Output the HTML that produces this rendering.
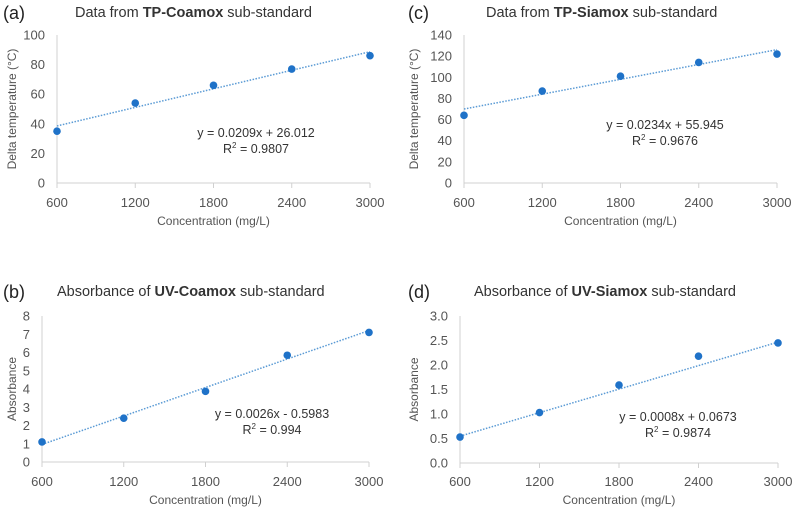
<!DOCTYPE html>
<html><head><meta charset="utf-8"><style>
body{margin:0;background:#fff;}
svg{display:block;font-family:"Liberation Sans",sans-serif;}
</style></head><body>
<svg id="fig" width="792" height="508" viewBox="0 0 792 508"></svg>
<script>
const xCats=[600,1200,1800,2400,3000];
const xTickLabels=["600","1200","1800","2400","3000"];
const valsA=[35,54,66,77,86];
const valsB=[1.1,2.4,3.87,5.85,7.1];
const valsC=[64,87,101,114,122];
const valsD=[0.53,1.03,1.59,2.18,2.45];
const slopes=[0.0209,0.0026,0.0234,0.0008];
const intercepts=[26.012,-0.5983,55.945,0.0673];
const yTicksA=[0,20,40,60,80,100];
const yTicksB=[0,1,2,3,4,5,6,7,8];
const yTicksC=[0,20,40,60,80,100,120,140];
const yTicksD=[0,0.5,1.0,1.5,2.0,2.5,3.0];
const eqTexts=["y = 0.0209x + 26.012","y = 0.0026x - 0.5983","y = 0.0234x + 55.945","y = 0.0008x + 0.0673"];
const r2Texts=["0.9807","0.994","0.9676","0.9874"];

const panels=[
 {id:"a",label:"(a)",pre:"Data from ",bold:"TP-Coamox",post:" sub-standard",vals:valsA,ticks:yTicksA,dec:0,ytitle:"Delta temperature (°C)",
  x0:57,x1:370,yTop:35,yBot:183,titleX:75,titleY:17,labX:3,ytX:16,eqX:256,eqY:137,xtY:207,xtitY:225},
 {id:"b",label:"(b)",pre:"Absorbance of ",bold:"UV-Coamox",post:" sub-standard",vals:valsB,ticks:yTicksB,dec:0,ytitle:"Absorbance",
  x0:42,x1:369,yTop:316,yBot:462,titleX:57,titleY:296,labX:3,ytX:16,eqX:272,eqY:418,xtY:486,xtitY:504},
 {id:"c",label:"(c)",pre:"Data from ",bold:"TP-Siamox",post:" sub-standard",vals:valsC,ticks:yTicksC,dec:0,ytitle:"Delta temperature (°C)",
  x0:464,x1:777,yTop:35,yBot:183,titleX:486,titleY:17,labX:408,ytX:418,eqX:665,eqY:129,xtY:207,xtitY:225},
 {id:"d",label:"(d)",pre:"Absorbance of ",bold:"UV-Siamox",post:" sub-standard",vals:valsD,ticks:yTicksD,dec:1,ytitle:"Absorbance",
  x0:460,x1:778,yTop:316,yBot:463,titleX:474,titleY:296,labX:408,ytX:418,eqX:678,eqY:421,xtY:486,xtitY:504}
];
const NS="http://www.w3.org/2000/svg";
const svg=document.getElementById("fig");
function mk(tag,attrs,parent,text){const e=document.createElementNS(NS,tag);for(const k in attrs)e.setAttribute(k,attrs[k]);if(text!==undefined)e.textContent=text;parent.appendChild(e);return e;}
panels.forEach((p,pi)=>{
 const g=mk("g",{},svg);
 
 
 const ymax=p.ticks[p.ticks.length-1],ymin=p.ticks[0];
 const xs=v=>p.x0+(v-xCats[0])/(xCats[xCats.length-1]-xCats[0])*(p.x1-p.x0);
 const ys=v=>p.yBot-(v-ymin)/(ymax-ymin)*(p.yBot-p.yTop);
 const lab=mk("text",{x:p.labX,y:p.titleY+2,"font-size":18,fill:"#222"},g,p.label);
 
 
 const t=mk("text",{x:p.titleX,y:p.titleY,"font-size":14.5,fill:"#333"},g);
 
 
 mk("tspan",{},t,p.pre);mk("tspan",{"font-weight":"bold"},t,p.bold);mk("tspan",{},t,p.post);
 const ya=mk("line",{x1:p.x0,x2:p.x0,y1:p.yTop,y2:p.yBot,stroke:"#d0d0d0"},g);
 
 
 const xa=mk("line",{x1:p.x0,x2:p.x1,y1:p.yBot,y2:p.yBot,stroke:"#d0d0d0"},g);
 
 
 p.ticks.forEach(v=>{
  const tl=mk("text",{x:p.x0-12,y:ys(v)+4.5,"font-size":13,fill:"#555","text-anchor":"end"},g,v.toFixed(p.dec));
  
  
 });
 xCats.forEach((c,i)=>{
  mk("line",{x1:xs(c),x2:xs(c),y1:p.yBot,y2:p.yBot+5,stroke:"#d0d0d0"},g);
  const tl=mk("text",{x:xs(c),y:p.xtY,"font-size":13,fill:"#555","text-anchor":"middle"},g,xTickLabels[i]);
  
  
 });
 const xt=mk("text",{x:(p.x0+p.x1)/2,y:p.xtitY,"font-size":12,fill:"#555","text-anchor":"middle"},g,"Concentration (mg/L)");
 
 
 const yc=(p.yTop+p.yBot)/2;
 const yt=mk("text",{x:p.ytX,y:yc,"font-size":12,fill:"#555","text-anchor":"middle",transform:`rotate(-90 ${p.ytX} ${yc})`},g,p.ytitle);
 
 
 const xa0=xCats[0],xa1=xCats[xCats.length-1];
 const tr=mk("line",{x1:xs(xa0),y1:ys(slopes[pi]*xa0+intercepts[pi]),x2:xs(xa1),y2:ys(slopes[pi]*xa1+intercepts[pi]),stroke:"#5b9bd5","stroke-width":1.5,"stroke-dasharray":"1.5 1.5"},g);
 
 
 p.vals.forEach((v,i)=>{
  const c=mk("circle",{cx:xs(xCats[i]),cy:ys(v),r:3.8,fill:"#1f72c8"},g);
  
  
 });
 const eq=mk("text",{x:p.eqX,y:p.eqY,"font-size":12.5,fill:"#333","text-anchor":"middle"},g,eqTexts[pi]);
 
 
 const r2=mk("text",{x:p.eqX,y:p.eqY+16,"font-size":12.5,fill:"#333","text-anchor":"middle"},g);
 
 
 mk("tspan",{},r2,"R");mk("tspan",{"font-size":8,dy:-5},r2,"2");mk("tspan",{dy:5},r2," = "+r2Texts[pi]);
});
</script>
</body></html>
